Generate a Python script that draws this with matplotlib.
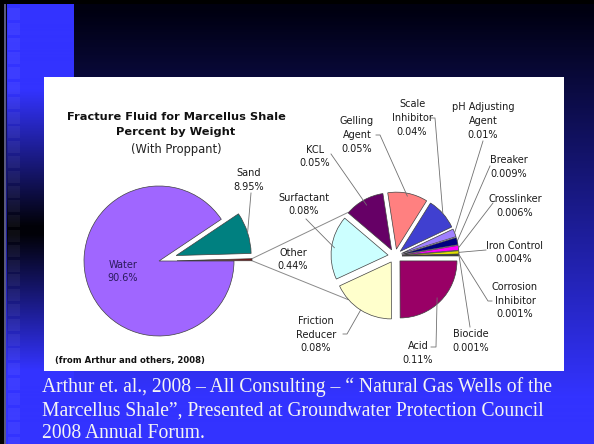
import numpy as np
import matplotlib
matplotlib.use('Agg')
import matplotlib.pyplot as plt
from matplotlib.patches import Rectangle

W, H = 594, 444

# main pie (Other is split out into the second pie)
main_labels = ['Other', 'Sand', 'Water']
main_values = [0.44, 8.95, 90.6]
main_colors = ['#7a1414', '#008080', '#a066ff']

# breakdown of "Other"
sub_labels = ['Acid', 'Friction\nReducer', 'Surfactant', 'KCL', 'Gelling\nAgent',
              'Scale\nInhibitor', 'pH Adjusting\nAgent', 'Breaker', 'Crosslinker',
              'Iron Control', 'Corrosion\nInhibitor', 'Biocide']
sub_values = [0.11, 0.08, 0.08, 0.05, 0.05, 0.04, 0.01, 0.009, 0.006, 0.004, 0.001, 0.001]
sub_colors = ['#990066', '#ffffcc', '#ccffff', '#660066', '#ff8080', '#4040d0',
              '#a080ff', '#000080', '#ff00ff', '#e0e000', '#008040', '#000000']

caption = ['Arthur et. al., 2008 \u2013 All Consulting \u2013 \u201c Natural Gas Wells of the',
           'Marcellus Shale\u201d, Presented at Groundwater Protection Council',
           '2008 Annual Forum.']


def Y(y):
    # picture rows -> data y
    return H - y


fig = plt.figure(figsize=(W / 100, H / 100), dpi=100)
ax = fig.add_axes([0, 0, 1, 1])

# ---- slide background ----
bg = np.zeros((H, W, 3))
rows = np.arange(H)[:, None]
top = np.array([0, 0, 16]) / 255
blue = np.array([51, 51, 255]) / 255
t = np.clip((rows - 10) / 385.0, 0, 1)
bg[:] = top + t[..., None] * (blue - top)
# left column: blue -> black -> blue
yy = np.arange(H)
col = np.ones(H)
col = np.where((yy >= 90) & (yy < 230), 1 - (yy - 90) / 140.0, col)
col = np.where((yy >= 230) & (yy < 370), (yy - 230) / 140.0, col)
col = np.clip(col, 0.03, 1)
bg[:, 7:74] = (col[:, None] * blue)[:, None, :]
bg[5:77, 7:74] = blue
bg[:, :4] = 0
bg[:, 4:6] = [0.35, 0.35, 0.5]
bg[:5, :] = 0
ax.imshow(bg, extent=(0, W, 0, H), origin='upper', aspect='auto', zorder=0)

for yq in np.arange(8, 440, 14.8):
    ax.add_patch(Rectangle((8, Y(yq + 12)), 12, 12, facecolor='white', alpha=0.05,
                           edgecolor='none', zorder=0.2))

# white chart panel
ax.add_patch(Rectangle((44, Y(371)), 520, 294, facecolor='white', edgecolor='none', zorder=0.5))

# ---- pies ----
wp = dict(edgecolor='#404040', linewidth=0.5)
mw, _ = ax.pie(main_values, colors=main_colors, explode=[18, 18, 0], radius=75,
               center=(159, Y(261)), startangle=0, counterclock=True,
               wedgeprops=wp, frame=True)
sw, _ = ax.pie(sub_values, colors=sub_colors, explode=[7] * len(sub_values), radius=57,
               center=(395, Y(256)), startangle=0, counterclock=False,
               wedgeprops=wp, frame=True)
for w in mw + sw:
    w.set_zorder(2)


def wedge_point(w, frac=1.0, ang=None):
    th = np.deg2rad((w.theta1 + w.theta2) / 2 if ang is None else ang)
    cx, cy = w.center
    return cx + frac * w.r * np.cos(th), cy + frac * w.r * np.sin(th)


# connector lines from "Other" to the second pie
other = mw[0]
scx, scy = 395, Y(256)
for a_main, a_sub in [(other.theta2, 137), (other.theta1, -137)]:
    p0 = wedge_point(other, 1.0, a_main)
    p1 = (scx + 64 * np.cos(np.deg2rad(a_sub)), scy + 64 * np.sin(np.deg2rad(a_sub)))
    ax.plot([p0[0], p1[0]], [p0[1], p1[1]], color='#8a8a8a', lw=0.7, zorder=1)

lab_font = dict(family='DejaVu Sans', fontsize=7, color='#1a1a1a')
step = 13.7


def block(x, yc, lines, **kw):
    n = len(lines)
    for i, s in enumerate(lines):
        ax.text(x, Y(yc + (i - (n - 1) / 2) * step), s, ha='center', va='center',
                zorder=5, **{**lab_font, **kw})


def leader(pts, w, frac):
    tip = wedge_point(w, frac)
    xs = [p[0] for p in pts] + [tip[0]]
    ys = [Y(p[1]) for p in pts] + [tip[1]]
    ax.plot(xs, ys, color='#707070', lw=0.6, zorder=4)


# main pie labels
block(123, 271.5, ['Water', '%g%%' % main_values[2]], color='#2b1a5c')
block(249, 180, ['Sand', '%g%%' % main_values[1]])
block(293, 259.5, ['Other', '%g%%' % main_values[0]])
leader([(251, 193)], mw[1], 1.0)

# second pie labels: centre, leader path, tip position along radius
sub_pos = [(418, 353), (316, 334.5), (304, 204.5), (315, 156.5), (357, 135), (412, 118),
           (483, 121), (509, 167), (515, 206), (514, 252.5), (515, 300.5), (471, 341)]
sub_lead = [[(431, 347), (436, 347)], [(343, 334), (347, 334)], [(306, 219)], [(331, 154)],
            [(376, 135), (380, 135)], [(431, 118), (435, 118)], [(483, 141)], [(490, 166)],
            [(493, 203)], [(486, 250)], [(492, 301), (488, 301)], [(470, 327)]]
sub_tip = [0.92, 1.0, 0.95, 0.9, 0.95, 1.0, 1.0, 1.0, 1.0, 1.0, 1.0, 1.0]
for i, name in enumerate(sub_labels):
    x, yc = sub_pos[i]
    block(x, yc, name.split('\n') + ['%g%%' % sub_values[i]])
    leader(sub_lead[i], sw[i], sub_tip[i])

# chart titles
ax.text(176, Y(117), 'Fracture Fluid for Marcellus Shale', ha='center', va='center',
        fontsize=8.2, fontweight='bold', color='#111111', zorder=5)
ax.text(176, Y(132), 'Percent by Weight', ha='center', va='center',
        fontsize=8.2, fontweight='bold', color='#111111', zorder=5)
ax.text(176, Y(149), '(With Proppant)', ha='center', va='center',
        fontsize=8.3, color='#222222', zorder=5)
ax.text(55, Y(360), '(from Arthur and others, 2008)', ha='left', va='center',
        fontsize=6.1, fontweight='bold', color='#111111', zorder=5)

# slide caption
for i, s in enumerate(caption):
    ax.text(42, Y(392 + 23.2 * i), s, ha='left', va='baseline', family='Liberation Serif',
            fontsize=14.1, color='#f4f4f4', zorder=5)

ax.set_xlim(0, W)
ax.set_ylim(0, H)
ax.axis('off')
fig.savefig('out.png', dpi=100)
